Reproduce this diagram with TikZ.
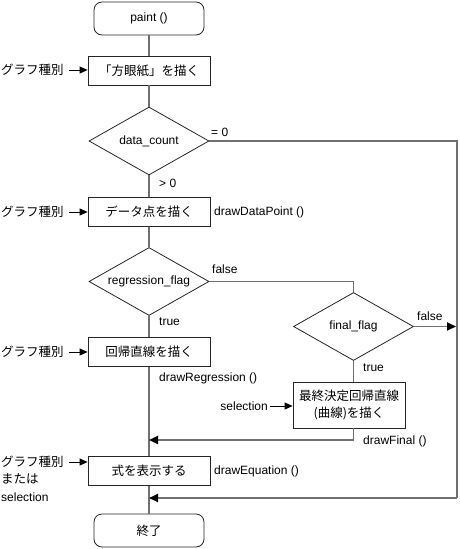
\documentclass[tikz,border=0pt]{standalone}
\usepackage{fontspec}
\setmainfont{Liberation Sans}
\newfontfamily\jp{Noto Sans CJK JP}
\usetikzlibrary{shapes.geometric,arrows.meta}
\definecolor{flowgray}{RGB}{112,112,112}
\begin{document}
\begin{tikzpicture}[x=1pt,y=-1pt,font=\fontsize{12}{14}\selectfont,
 box/.style={draw=black!85,line width=0.8pt,fill=white,minimum width=122pt,minimum height=29pt,inner sep=0pt,font=\jp\fontsize{12.5}{15}\selectfont},
 term/.style={draw=black!85,line width=0.8pt,rounded corners=8pt,minimum width=110pt,minimum height=33pt,inner sep=0pt},
 dec/.style={diamond,draw=black!85,line width=0.8pt,aspect=1.75,minimum width=120pt,minimum height=68pt,inner sep=0pt},
 flow/.style={draw=flowgray,line width=1.8pt},
 flowarrow/.style={flow,-{Triangle[length=9pt,width=8pt,color=black]}},
 inarrow/.style={draw=black,line width=0.8pt,-{Triangle[length=8pt,width=7pt]}},
 lbl/.style={inner sep=0pt,anchor=west},
 jplbl/.style={inner sep=0pt,anchor=west,font=\jp\fontsize{12.5}{15}\selectfont},
]
\useasboundingbox (0,0) rectangle (459,549);
% nodes
\node[term] (start) at (149,18.5) {paint ()};
\node[box] (grid) at (149,70.5) {「方眼紙」を描く};
\node[dec] (dc) at (149,141) {data\_count};
\node[box] (pts) at (149,212) {データ点を描く};
\node[dec] (rf) at (149,281.5) {regression\_flag};
\node[box] (reg) at (149,352) {回帰直線を描く};
\node[dec] (ff) at (353.5,326.5) {final\_flag};
\node[box,minimum width=112pt,minimum height=46pt,align=center,font=\jp\fontsize{12.5}{17.5}\selectfont] (fin) at (349,405) {最終決定回帰直線\\(曲線)を描く};
\node[box] (eq) at (149,471) {式を表示する};
\node[term,font=\jp\fontsize{12.5}{15}\selectfont] (stop) at (149,530.5) {終了};
\coordinate (rt) at (457,141);
\coordinate (rb) at (457,498);
\coordinate (rm) at (456,326.5);
\coordinate (jn) at (353.5,281.5);
\coordinate (fj) at (353.5,440);
% input labels
\node[jplbl] (in1) at (1,70) {グラフ種別};
\node[jplbl] (in2) at (1,212) {グラフ種別};
\node[jplbl] (in3) at (1,352) {グラフ種別};
\node[jplbl] (in4) at (1,462) {グラフ種別};
\node[jplbl] (in4b) at (1,479) {または};
\node[lbl] (in4c) at (1,497) {selection};
\node[inner sep=0pt,anchor=east] (sel) at (268,406) {selection};
% labels
\node[lbl] at (211,132) {= 0};
\node[lbl] at (159,183) {> 0};
\node[lbl] at (214,212) {drawDataPoint ()};
\node[lbl] at (212,269) {false};
\node[lbl] at (159,322) {true};
\node[lbl] at (159,378) {drawRegression ()};
\node[lbl] at (417,316) {false};
\node[lbl] at (363,368) {true};
\node[lbl] at (363,441) {drawFinal ()};
\node[lbl] at (214,471) {drawEquation ()};
% main flow
\draw[flow] (start) -- (grid);
\draw[flow] (grid) -- (dc);
\draw[flow] (dc) -- (pts);
\draw[flow] (pts) -- (rf);
\draw[flow] (rf) -- (reg);
\draw[flow] (reg) -- (eq);
\draw[flow] (eq) -- (stop);
% right branches
\draw[flow] (dc.east) -- (rt) -- (rb);
\draw[flowarrow] (rb) -- (rb -| eq.north);
\draw[flow] (rf.east) -- (jn) -- (ff.north);
\draw[flowarrow] (ff.east) -- (rm);
\draw[flow] (ff.south) -- (ff.south |- fin.north);
\draw[flow] (ff.south |- fin.south) -- (fj);
\draw[flowarrow] (fj) -- (fj -| reg.south);
% inputs
\draw[inarrow] ([xshift=5pt]in1.east) -- (in1.east -| grid.west);
\draw[inarrow] ([xshift=5pt]in2.east) -- (in2.east -| pts.west);
\draw[inarrow] ([xshift=5pt]in3.east) -- (in3.east -| reg.west);
\draw[inarrow] ([xshift=5pt]in4.east) -- (in4.east -| eq.west);
\draw[inarrow] ([xshift=2pt]sel.east) -- (sel.east -| fin.west);
\end{tikzpicture}
\end{document}
